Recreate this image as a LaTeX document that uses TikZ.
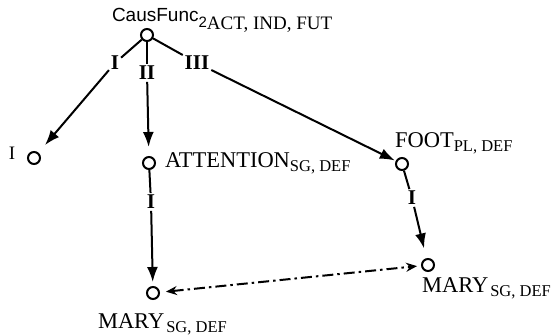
\documentclass[tikz,border=0pt]{standalone}
\usepackage{fontspec}
\setmainfont{Liberation Serif}
\setsansfont{Liberation Sans}
\usetikzlibrary{arrows.meta}

\newcommand{\gram}[1]{\raisebox{-4pt}{\fontsize{16.5}{16.5}\selectfont #1}}

\begin{document}
\begin{tikzpicture}[x=1pt, y=-1pt, line width=2pt,
	dot/.style={circle, draw, minimum size=12pt, inner sep=0pt},
	word/.style={anchor=base west, inner sep=0pt, font=\fontsize{22.5}{22.5}\selectfont},
	rom/.style={fill=white, inner sep=1pt, font=\bfseries\fontsize{21}{21}\selectfont},
	arr/.style={-{Latex[length=15pt, width=11pt]}}]

	\useasboundingbox (0,0) rectangle (556,336);

	% Draw the circles
	\node[dot] (caus) at (147,35) {};
	\node[dot] (one) at (34,158) {};
	\node[dot] (att) at (149,163) {};
	\node[dot] (foot) at (402,164) {};
	\node[dot] (maryL) at (153,293) {};
	\node[dot] (maryR) at (428,265) {};

	% Draw the words next to the circles
	\node[anchor=base west, inner sep=0pt, font=\sffamily\fontsize{19}{19}\selectfont] (causT) at (111,22)
		{CausFunc\raisebox{-6pt}{\fontsize{15}{15}\selectfont 2}\raisebox{-8pt}{\rmfamily\fontsize{19}{19}\selectfont ACT, IND, FUT}};
	\node[anchor=base, inner sep=0pt, font=\fontsize{19}{19}\selectfont] (oneT) at (12,160) {I};
	\node[word] (attT) at (164,168) {ATTENTION\gram{SG, DEF}};
	\node[word] (footT) at (394,148) {FOOT\gram{PL, DEF}};
	\node[word] (maryLT) at (97,328) {MARY\kern2pt\gram{SG, DEF}};
	\node[word] (maryRT) at (421,292) {MARY\kern2pt\gram{SG, DEF}};

	% Draw the labels on the arrows
	\node[rom] (rI) at (115,63) {I};
	\node[rom] (rII) at (147,73) {II};
	\node[rom] (rIII) at (197,63) {III};
	\node[rom] (aI) at (151,202) {I};
	\node[rom] (fI) at (412,198) {I};

	% Draw the arrows
	\draw (caus) -- (rI);
	\draw[arr, shorten >=10pt] (rI) -- (one);
	\draw (caus) -- (rII);
	\draw[arr, shorten >=9pt] (rII) -- (att);
	\draw (caus) -- (rIII);
	\draw[arr, shorten >=1pt] (rIII) -- (foot);
	\draw (att) -- (aI);
	\draw[arr, shorten >=4pt] (aI) -- (maryL);
	\draw (foot) -- (fI);
	\draw[arr, shorten >=10pt] (fI) -- (maryR);

	% Draw the dash-dotted link between the two MARY
	\draw[{Stealth[length=11pt, width=9pt]}-{Stealth[length=11pt, width=9pt]},
		dash pattern=on 11pt off 4pt on 2.5pt off 4pt, shorten <=6pt, shorten >=4pt]
		(maryL) -- (maryR);

\end{tikzpicture}
\end{document}
